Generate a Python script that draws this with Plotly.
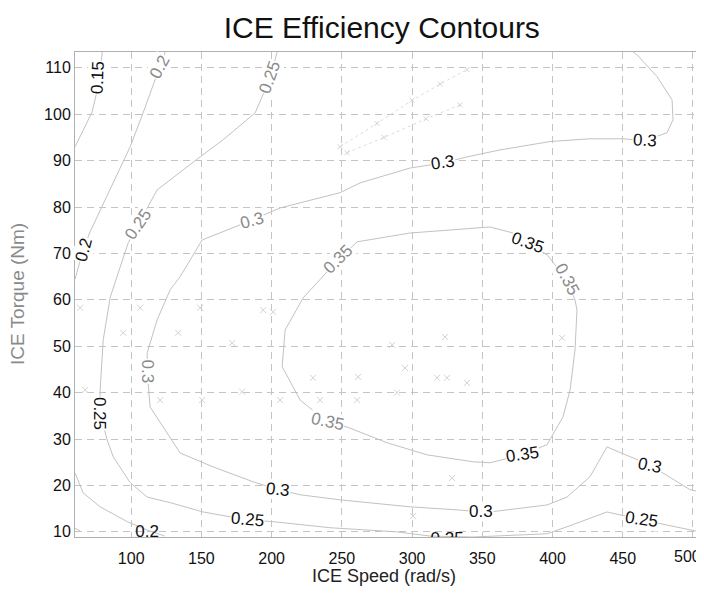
import plotly.graph_objects as go

# ---------------- data ----------------
# contour level 0.15 (top-left corner)
c015_speed = [60.1, 72.2, 76.5, 79.4]
c015_torque = [93.0, 100.5, 106.0, 113.4]
# small 0.15 piece in bottom-left corner
c015b_speed = [60.0, 63.5]
c015b_torque = [10.8, 10.2]

# contour level 0.2 (upper-left)
c020_speed = [60.1, 66.0, 70.8, 99.3, 108.5, 124.2]
c020_torque = [64.5, 71.0, 74.7, 93.0, 100.3, 113.4]
# contour level 0.2 (bottom-left)
c020b_speed = [60.0, 65.8, 77.9, 97.2, 111.4, 124.0]
c020b_torque = [22.7, 18.4, 15.4, 12.2, 10.4, 9.1]

# contour level 0.25
c025_speed = [203.9, 198.9, 188.3, 165.5, 149.1, 118.5, 105.0, 97.9, 85.1, 80.1,
              77.9, 77.9, 82.9, 87.2, 99.3, 111.4, 127.8, 151.2, 182.6, 201.1,
              241.6, 289.3, 312.8, 343.4, 396.1, 410.3, 438.8, 463.7, 505.0]
c025_torque = [113.4, 107.8, 100.3, 94.5, 90.8, 83.7, 76.2, 72.3, 60.6, 51.4,
               40.6, 35.6, 29.8, 26.2, 20.6, 17.5, 16.3, 14.3, 12.6, 12.2,
               10.9, 10.0, 9.1, 8.9, 9.6, 11.1, 14.3, 12.6, 10.0]

# contour level 0.3
c030_speed = [505.0, 497.9, 469.4, 457.3, 438.8, 426.7, 410.3, 396.1, 355.5, 349.0,
              334.2, 298.6, 248.8, 220.3, 204.6, 186.8, 158.4, 134.9, 113.5, 111.4,
              111.4, 118.5, 127.8, 134.9, 150.5, 165.5, 186.1, 206.0, 248.8, 263.0,
              298.6, 322.1, 339.1, 362.6, 398.2, 426.7, 450.2, 465.8, 481.5, 485.8,
              485.1, 474.4, 460.1, 457.3]
c030_torque = [18.6, 19.1, 24.4, 26.0, 28.3, 21.9, 17.5, 15.8, 14.3, 14.3,
               14.7, 15.4, 16.9, 18.0, 19.1, 20.8, 24.0, 27.0, 36.9, 44.5,
               48.6, 55.7, 62.2, 65.0, 72.9, 74.7, 77.2, 79.8, 83.1, 85.2,
               88.4, 89.5, 90.8, 92.3, 94.1, 94.7, 94.7, 94.3, 96.0, 98.8,
               103.1, 108.1, 112.8, 113.4]

# contour level 0.35 (closed island)
c035_speed = [207.5, 209.6, 222.4, 247.3, 260.9, 298.6, 355.5, 371.9, 381.9, 396.1,
              410.3, 416.0, 417.4, 416.0, 412.5, 407.5, 396.1, 378.3, 355.5, 343.4,
              310.7, 282.2, 253.7, 239.5, 220.3, 207.5]
c035_torque = [45.6, 53.5, 60.4, 68.6, 72.5, 74.4, 75.7, 74.4, 72.3, 69.7,
               64.3, 60.0, 57.8, 49.2, 40.6, 34.8, 28.8, 26.6, 24.9, 25.1,
               26.6, 29.2, 32.6, 33.7, 38.4, 45.6]

# faint operating points (x markers)
op_speed = [63.7, 106.4, 94.3, 133.5, 149.1, 171.9, 194.0, 201.1, 67.3, 120.6,
            150.5, 179.0, 206.0, 229.5, 261.6, 234.5, 260.9, 285.8, 323.5, 295.0,
            317.8, 324.9, 339.1, 289.3, 328.5, 300.7, 406.8]
op_torque = [58.3, 58.3, 52.9, 52.9, 58.3, 50.7, 57.8, 57.4, 40.6, 38.4,
             38.4, 40.2, 38.4, 43.2, 43.4, 38.4, 38.4, 50.3, 52.0, 45.3,
             43.2, 43.2, 42.1, 40.0, 21.6, 13.4, 51.8]

# faint dotted traces near the top
dotA_speed = [248.8, 275.0, 300.0, 320.0, 339.1]
dotA_torque = [93.0, 98.0, 103.0, 106.5, 109.6]
dotB_speed = [253.7, 280.0, 310.0, 334.2]
dotB_torque = [91.7, 95.0, 99.0, 102.0]

# inline contour labels: text, speed, torque, angle, dark(1)/grey(0)
lab_text = ["0.15", "0.2", "0.2", "0.25", "0.25", "0.3", "0.3", "0.3",
            "0.35", "0.35", "0.35", "0.3", "0.25", "0.35", "0.35", "0.3",
            "0.3", "0.25", "0.3", "0.25"]
lab_speed = [76.5, 66.5, 120.6, 198.9, 105.0, 186.1, 322.1, 465.8,
             247.3, 381.9, 410.3, 111.4, 77.9, 239.5, 378.3, 204.6,
             349.0, 182.6, 469.4, 463.7]
lab_torque = [107.8, 70.8, 110.2, 107.8, 76.2, 77.2, 89.5, 94.3,
              68.6, 72.3, 64.3, 44.5, 35.6, 33.7, 26.6, 19.1,
              14.3, 12.6, 24.4, 12.6]
lab_angle = [-88, -75, -62, -70, -55, -15, -8, 3,
             -45, 20, 62, 90, 90, 12, -8, 6,
             0, 5, 12, 8]
lab_dark = [1, 1, 0, 0, 0, 0, 1, 1,
            0, 1, 0, 0, 1, 0, 1, 1,
            1, 1, 1, 1]

# labels cut by the bottom of the axes
clip_text = ["0.2", "0.25"]
clip_speed = [111.4, 324.9]
clip_torque = [9.9, 8.4]

x_ticks = [100, 150, 200, 250, 300, 350, 400, 450, 500]
y_ticks = [10, 20, 30, 40, 50, 60, 70, 80, 90, 100, 110]

# ---------------- figure ----------------
FONT = "Liberation Sans, Arial, sans-serif"
LINE = dict(color="#c2c2c2", width=1)

fig = go.Figure()

for xs, ys in [(c015_speed, c015_torque), (c015b_speed, c015b_torque),
               (c020_speed, c020_torque), (c020b_speed, c020b_torque),
               (c025_speed, c025_torque), (c030_speed, c030_torque),
               (c035_speed, c035_torque)]:
    fig.add_trace(go.Scatter(x=xs, y=ys, mode="lines", line=LINE,
                             showlegend=False, hoverinfo="skip"))

for xs, ys in [(dotA_speed, dotA_torque), (dotB_speed, dotB_torque)]:
    fig.add_trace(go.Scatter(x=xs, y=ys, mode="lines+markers",
                             line=dict(color="#dddddd", width=1, dash="dot"),
                             marker=dict(symbol="x-thin", size=5,
                                         line=dict(color="#d4d4d4", width=1)),
                             showlegend=False, hoverinfo="skip"))

fig.add_trace(go.Scatter(x=op_speed, y=op_torque, mode="markers",
                         marker=dict(symbol="x-thin", size=6,
                                     line=dict(color="#d2d2d2", width=1)),
                         showlegend=False, hoverinfo="skip"))

fig.add_trace(go.Scatter(x=clip_speed, y=clip_torque, mode="text",
                         text=clip_text, textposition="middle center",
                         textfont=dict(family=FONT, size=17, color="#111111"),
                         cliponaxis=True, showlegend=False, hoverinfo="skip"))

for t, xs, ys, a, d in zip(lab_text, lab_speed, lab_torque, lab_angle, lab_dark):
    fig.add_annotation(x=xs, y=ys, xref="x", yref="y", text=t, showarrow=False,
                       textangle=a, bgcolor="white", borderpad=0,
                       font=dict(family=FONT, size=17,
                                 color="#111111" if d else "#8a8a8a"))

# x tick labels: the last one is drawn as an annotation nudged inside the page
x_ticktext = [str(v) for v in x_ticks[:-1]] + [""]
fig.add_annotation(text=str(x_ticks[-1]), x=x_ticks[-1], xref="x", y=0, yref="paper",
                   xanchor="center", yanchor="top", xshift=-5, yshift=-9,
                   showarrow=False, font=dict(family=FONT, size=16, color="#111111"))

# axis titles
fig.add_annotation(text="ICE Speed (rad/s)", xref="paper", yref="paper",
                   x=0.494, y=-0.08, xanchor="center", yanchor="middle",
                   showarrow=False, font=dict(family=FONT, size=18, color="#222222"))
fig.add_annotation(text="ICE Torque (Nm)", xref="paper", yref="paper",
                   x=-0.092, y=0.5, xanchor="center", yanchor="middle",
                   textangle=-90, showarrow=False,
                   font=dict(family=FONT, size=19, color="#8a8a8a"))

# the page adds an 8px body margin, so the figure is sized to fit the window
fig.update_layout(
    width=696, height=585,
    margin=dict(l=67, r=4, t=44, b=56, autoexpand=False),
    paper_bgcolor="white", plot_bgcolor="white",
    title=dict(text="ICE Efficiency Contours", x=0.537, xref="container",
               xanchor="center", y=0.966, yref="container", yanchor="middle",
               font=dict(family=FONT, size=30, color="#111111")),
    font=dict(family=FONT, color="#111111"),
)
fig.update_xaxes(range=[60, 505], tickvals=x_ticks, ticktext=x_ticktext,
                 showgrid=True, automargin=False,
                 gridcolor="#c4c4c4", griddash="7px,5px", gridwidth=1,
                 zeroline=False, showline=True, mirror=True, linecolor="#b0b0b0",
                 linewidth=1, ticks="outside", ticklen=7, tickcolor="rgba(0,0,0,0)",
                 ticklabeloverflow="allow",
                 tickfont=dict(family=FONT, size=16, color="#111111"))
fig.update_yaxes(range=[8.9, 113.4], tickvals=y_ticks, showgrid=True, automargin=False,
                 gridcolor="#c4c4c4", griddash="7px,5px", gridwidth=1,
                 zeroline=False, showline=True, mirror=True, linecolor="#b0b0b0",
                 linewidth=1, ticks="", ticklen=0, ticklabeloverflow="allow",
                 tickfont=dict(family=FONT, size=16, color="#111111"))

fig.write_html("out.html")
